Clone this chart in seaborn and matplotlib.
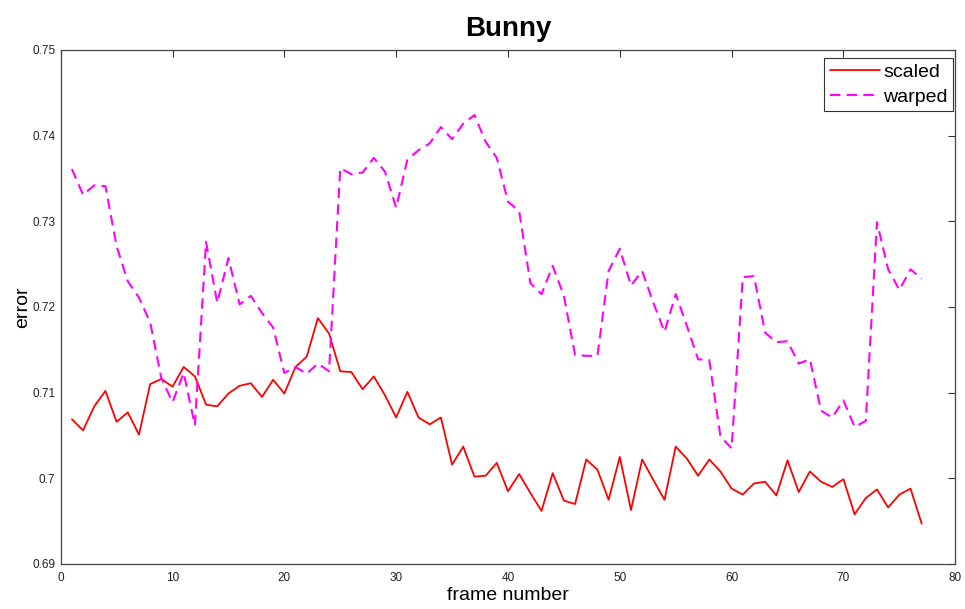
import numpy as np
import pandas as pd
import matplotlib
matplotlib.use("Agg")
import matplotlib.pyplot as plt
import seaborn as sns

frames = list(range(1, 78))

scaled = [0.7069, 0.7056, 0.7084, 0.7102, 0.7066, 0.7077, 0.7051, 0.7110, 0.7116, 0.7107,
          0.7130, 0.7119, 0.7086, 0.7084, 0.7099, 0.7108, 0.7111, 0.7095, 0.7115, 0.7099,
          0.7130, 0.7142, 0.7187, 0.7169, 0.7125, 0.7124, 0.7104, 0.7119, 0.7097, 0.7071,
          0.7101, 0.7071, 0.7063, 0.7071, 0.7016, 0.7037, 0.7002, 0.7003, 0.7018, 0.6985,
          0.7005, 0.6983, 0.6962, 0.7006, 0.6974, 0.6970, 0.7022, 0.7010, 0.6975, 0.7025,
          0.6963, 0.7022, 0.6998, 0.6975, 0.7037, 0.7023, 0.7003, 0.7022, 0.7008, 0.6988,
          0.6981, 0.6994, 0.6996, 0.6980, 0.7021, 0.6984, 0.7008, 0.6996, 0.6990, 0.6999,
          0.6958, 0.6977, 0.6987, 0.6966, 0.6981, 0.6988, 0.6947]

warped = [0.7361, 0.7331, 0.7342, 0.7341, 0.7271, 0.7230, 0.7211, 0.7182, 0.7117, 0.7089,
          0.7123, 0.7062, 0.7276, 0.7205, 0.7257, 0.7203, 0.7213, 0.7193, 0.7176, 0.7123,
          0.7130, 0.7122, 0.7134, 0.7125, 0.7362, 0.7355, 0.7357, 0.7374, 0.7358, 0.7316,
          0.7372, 0.7383, 0.7391, 0.7410, 0.7396, 0.7414, 0.7424, 0.7393, 0.7374, 0.7323,
          0.7312, 0.7228, 0.7215, 0.7248, 0.7213, 0.7144, 0.7143, 0.7143, 0.7242, 0.7268,
          0.7225, 0.7242, 0.7205, 0.7171, 0.7215, 0.7178, 0.7139, 0.7138, 0.7049, 0.7035,
          0.7235, 0.7236, 0.7170, 0.7159, 0.7160, 0.7134, 0.7139, 0.7079, 0.7071, 0.7091,
          0.7060, 0.7067, 0.7299, 0.7244, 0.7220, 0.7244, 0.7233]

x_ticks = [0, 10, 20, 30, 40, 50, 60, 70, 80]
y_ticks = [0.69, 0.70, 0.71, 0.72, 0.73, 0.74, 0.75]
y_tick_labels = ["0.69", "0.7", "0.71", "0.72", "0.73", "0.74", "0.75"]

sns.set_style("white")
plt.rcParams['font.family'] = ['Liberation Sans', 'DejaVu Sans']
plt.rcParams['text.color'] = 'black'
plt.rcParams['axes.labelcolor'] = 'black'

fig = plt.figure(figsize=(9.65, 6.09), dpi=100)
ax = fig.add_axes([0.0629, 0.0739, 0.9270, 0.8440])

df_s = pd.DataFrame({"frame": frames, "error": scaled})
df_w = pd.DataFrame({"frame": frames, "error": warped})

sns.lineplot(data=df_s, x="frame", y="error", ax=ax, color="#ff0000",
             linewidth=1.3, label="scaled")
sns.lineplot(data=df_w, x="frame", y="error", ax=ax, color="#ff00ff",
             linewidth=1.5, linestyle=(0, (5, 3)), label="warped")

ax.set_xlim(0, 80)
ax.set_ylim(0.69, 0.75)
ax.set_xticks(x_ticks)
ax.set_xticklabels([str(t) for t in x_ticks])
ax.set_yticks(y_ticks)
ax.set_yticklabels(y_tick_labels)

ax.tick_params(axis="both", which="both", direction="in", length=5, width=0.8,
               top=True, right=True, labelsize=8.5, colors="#333333",
               labelcolor="#222222")
ax.tick_params(axis="x", pad=6)
ax.tick_params(axis="y", pad=4)

for sp in ax.spines.values():
    sp.set_visible(True)
    sp.set_color("#444444")
    sp.set_linewidth(0.9)

ax.set_title("Bunny", fontsize=20, fontweight="bold", pad=10, color="black")
ax.set_xlabel("frame number", fontsize=14, labelpad=2, color="black")
ax.set_ylabel("error", fontsize=14, labelpad=1, color="black")

leg = ax.legend(loc="upper right", bbox_to_anchor=(0.998, 0.985), fontsize=14,
                frameon=True, fancybox=False, handlelength=2.6, handletextpad=0.15,
                borderpad=0.3, labelspacing=0.35, borderaxespad=0.0)
leg.get_frame().set_edgecolor("#000000")
leg.get_frame().set_linewidth(0.8)
for t in leg.get_texts():
    t.set_color("black")

fig.savefig("out.png", dpi=100, facecolor="white")
